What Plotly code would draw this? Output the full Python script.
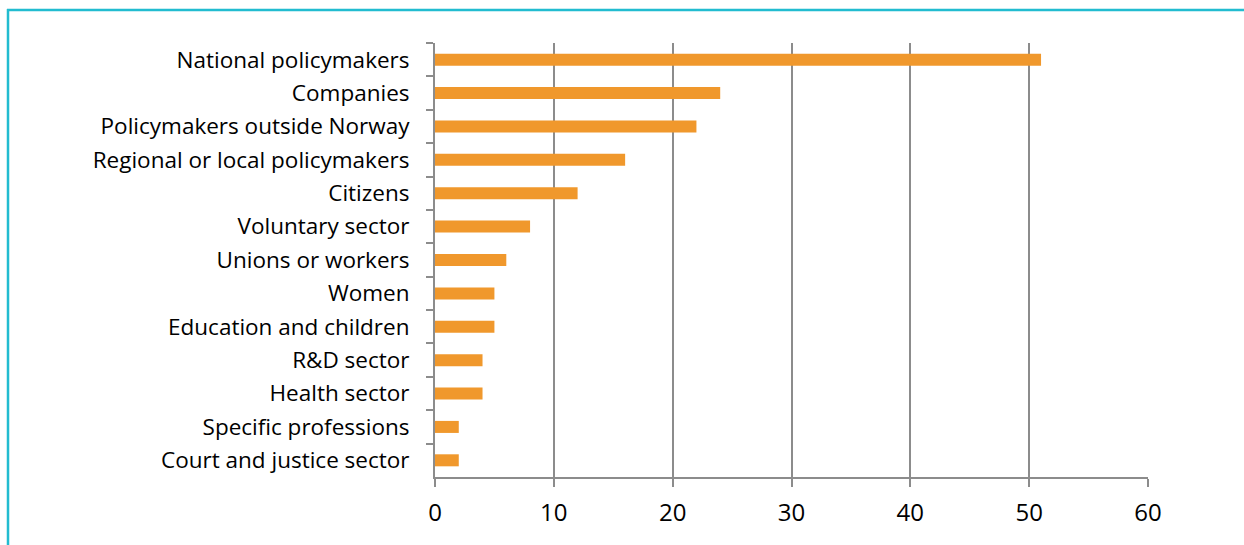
import plotly.graph_objects as go

categories = ["National policymakers", "Companies", "Policymakers outside Norway",
              "Regional or local policymakers", "Citizens", "Voluntary sector",
              "Unions or workers", "Women", "Education and children", "R&D sector",
              "Health sector", "Specific professions", "Court and justice sector"]
values = [51, 24, 22, 16, 12, 8, 6, 5, 5, 4, 4, 2, 2]
x_ticks = [0, 10, 20, 30, 40, 50, 60]

W, H = 1244, 545
L, R, T, B = 435, 96, 43, 68
pw, ph = W - L - R, H - T - B

def px(x):
    return (x - L) / pw

def py(y):
    return (H - B - y) / ph

fig = go.Figure(go.Bar(
    y=categories, x=values, orientation="h",
    marker=dict(color="#F0982C", line=dict(width=0)),
    hoverinfo="x+y",
))

grid = "#8C8C8C"
fig.update_layout(
    width=W, height=H,
    margin=dict(l=L, r=R, t=T, b=B),
    paper_bgcolor="white", plot_bgcolor="white",
    font=dict(family="Open Sans, Lato, sans-serif", size=22.5, color="#000000"),
    bargap=0.64,
    showlegend=False,
    xaxis=dict(range=[0, 60], tickvals=x_ticks, showgrid=True, gridcolor=grid, gridwidth=2,
               showline=True, linecolor=grid, linewidth=2, zeroline=False,
               ticks="outside", ticklen=8, tickwidth=2, tickcolor=grid,
               ticklabelstandoff=5,
               tickfont=dict(size=24), fixedrange=True),
    yaxis=dict(autorange="reversed", type="category", tickson="boundaries",
               showline=True, linecolor=grid, linewidth=2, showgrid=False,
               ticks="outside", ticklen=7, tickwidth=2, tickcolor=grid,
               ticklabelstandoff=19,
               tickfont=dict(size=22.5), fixedrange=True),
    shapes=[
        dict(type="line", xref="paper", yref="paper",
             x0=px(7), x1=px(W + 5), y0=py(10), y1=py(10),
             line=dict(color="#22BCD0", width=2.5)),
        dict(type="line", xref="paper", yref="paper",
             x0=px(8), x1=px(8), y0=py(9), y1=py(H + 5),
             line=dict(color="#22BCD0", width=2.5)),
    ],
)

fig.write_html("out.html", config={"displayModeBar": False},
               post_script="document.body.style.margin='0px';document.body.style.overflow='hidden';")
